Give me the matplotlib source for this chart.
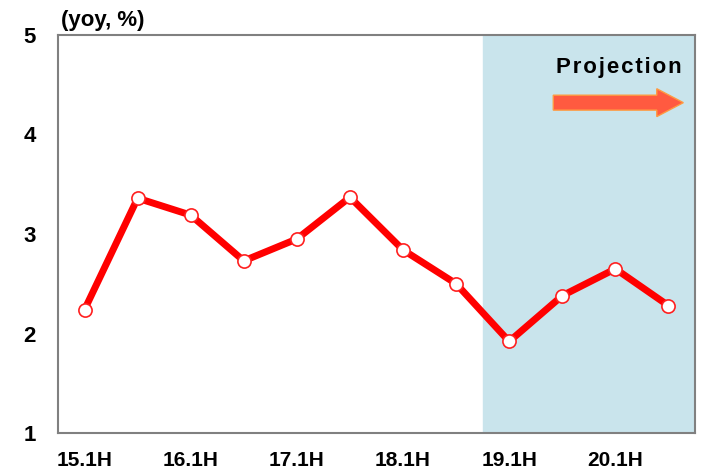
import numpy as np
import matplotlib
matplotlib.use("Agg")
import matplotlib.pyplot as plt
from matplotlib.patches import FancyArrow

# Data
periods = ["15.1H", "15.2H", "16.1H", "16.2H", "17.1H", "17.2H",
           "18.1H", "18.2H", "19.1H", "19.2H", "20.1H", "20.2H"]
growth = [2.24, 3.36, 3.19, 2.73, 2.95, 3.37, 2.84, 2.50, 1.92, 2.38, 2.65, 2.28]
proj_start = 7.5
y_ticks = [1, 2, 3, 4, 5]

plt.rcParams['font.family'] = ['Liberation Sans', 'DejaVu Sans']

fig = plt.figure(figsize=(7.01, 4.76), dpi=100)
ax = fig.add_axes([58/701, (476-433)/476, (695-58)/701, (433-35)/476])

x = np.arange(len(periods))
ax.set_xlim(-0.5, len(periods) - 0.5)
ax.set_ylim(1, 5)

# projection band
ax.axvspan(proj_start, len(periods) - 0.5, color='#c9e4ec', zorder=0)

ax.plot(x, growth, color='#ff0000', linewidth=5, zorder=2,
        marker='o', markersize=9.5, markerfacecolor='white',
        markeredgecolor='#ff2020', markeredgewidth=1.2)

# ticks
ax.set_yticks(y_ticks)
ax.set_yticklabels([str(v) for v in y_ticks], fontsize=16, fontweight='bold')
ax.set_xticks(x[::2])
ax.set_xticklabels(periods[::2], fontsize=15, fontweight='bold',
                   family=['Liberation Sans Narrow', 'Liberation Sans', 'DejaVu Sans'])
ax.tick_params(axis='both', length=0)
ax.tick_params(axis='y', pad=16)
ax.tick_params(axis='x', pad=13)

for s in ax.spines.values():
    s.set_color('#808080')
    s.set_linewidth(1.5)

ax.text(0.005, 1.01, "(yoy, %)", transform=ax.transAxes, fontsize=16,
        fontweight='bold', ha='left', va='bottom')

ax.text(11.25, 4.67, "P r o j e c t i o n".replace(" ", "\u200a"), fontsize=16,
        fontweight='bold', ha='right', va='center')
arr = FancyArrow(8.83, 4.32, 1.95, 0, width=0.15, head_width=0.28,
                 head_length=0.5, length_includes_head=False,
                 facecolor='#ff5a40', edgecolor='#ff9a40', linewidth=1, zorder=3)
ax.add_patch(arr)

plt.savefig('out.png', dpi=100)
